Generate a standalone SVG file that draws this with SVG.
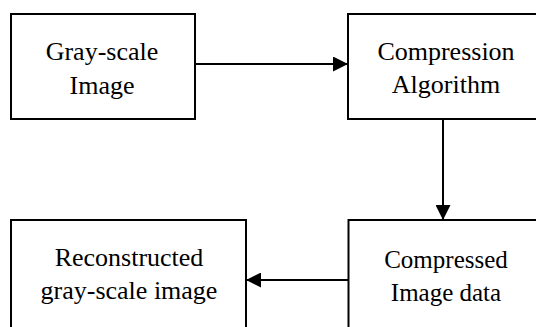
<svg xmlns="http://www.w3.org/2000/svg" width="536" height="327" viewBox="0 0 536 327">
<style>
.box{fill:#fff;stroke:#000;stroke-width:2}
.lbl{font-size:26px;fill:#000;text-anchor:middle}
.sm{font-size:25px}
.conn{stroke:#000;stroke-width:2;fill:none}
</style>
<defs>
<marker id="ah" markerUnits="userSpaceOnUse" markerWidth="15" markerHeight="15" refX="15" refY="7.5" orient="auto">
<path d="M0,0 L15,7.5 L0,15 z" fill="#000"/>
</marker>
</defs>
<rect width="536" height="327" fill="#fff"/>
<g id="connectors">
<line class="conn" x1="195" y1="64" x2="348" y2="64" marker-end="url(#ah)"/>
<line class="conn" x1="443" y1="119" x2="443" y2="220" marker-end="url(#ah)"/>
<line class="conn" x1="348" y1="280" x2="246" y2="280" marker-end="url(#ah)"/>
</g>
<g font-family="Liberation Serif, Times New Roman, serif">
<g id="node-grayscale">
<rect class="box" x="11" y="14" width="184" height="105"/>
<text class="lbl" x="102" y="60">Gray-scale</text>
<text class="lbl" x="102" y="94">Image</text>
</g>
<g id="node-compression">
<rect class="box" x="348" y="14" width="200" height="105"/>
<text class="lbl" x="446" y="60">Compression</text>
<text class="lbl" x="446" y="93">Algorithm</text>
</g>
<g id="node-compressed">
<rect class="box" x="348.5" y="220" width="200" height="120"/>
<text class="lbl sm" x="446" y="268">Compressed</text>
<text class="lbl sm" x="446" y="301">Image data</text>
</g>
<g id="node-reconstructed">
<rect class="box" x="11" y="220" width="235" height="120"/>
<text class="lbl" x="129" y="266">Reconstructed</text>
<text class="lbl" x="129" y="299">gray-scale image</text>
</g>
</g>
</svg>
